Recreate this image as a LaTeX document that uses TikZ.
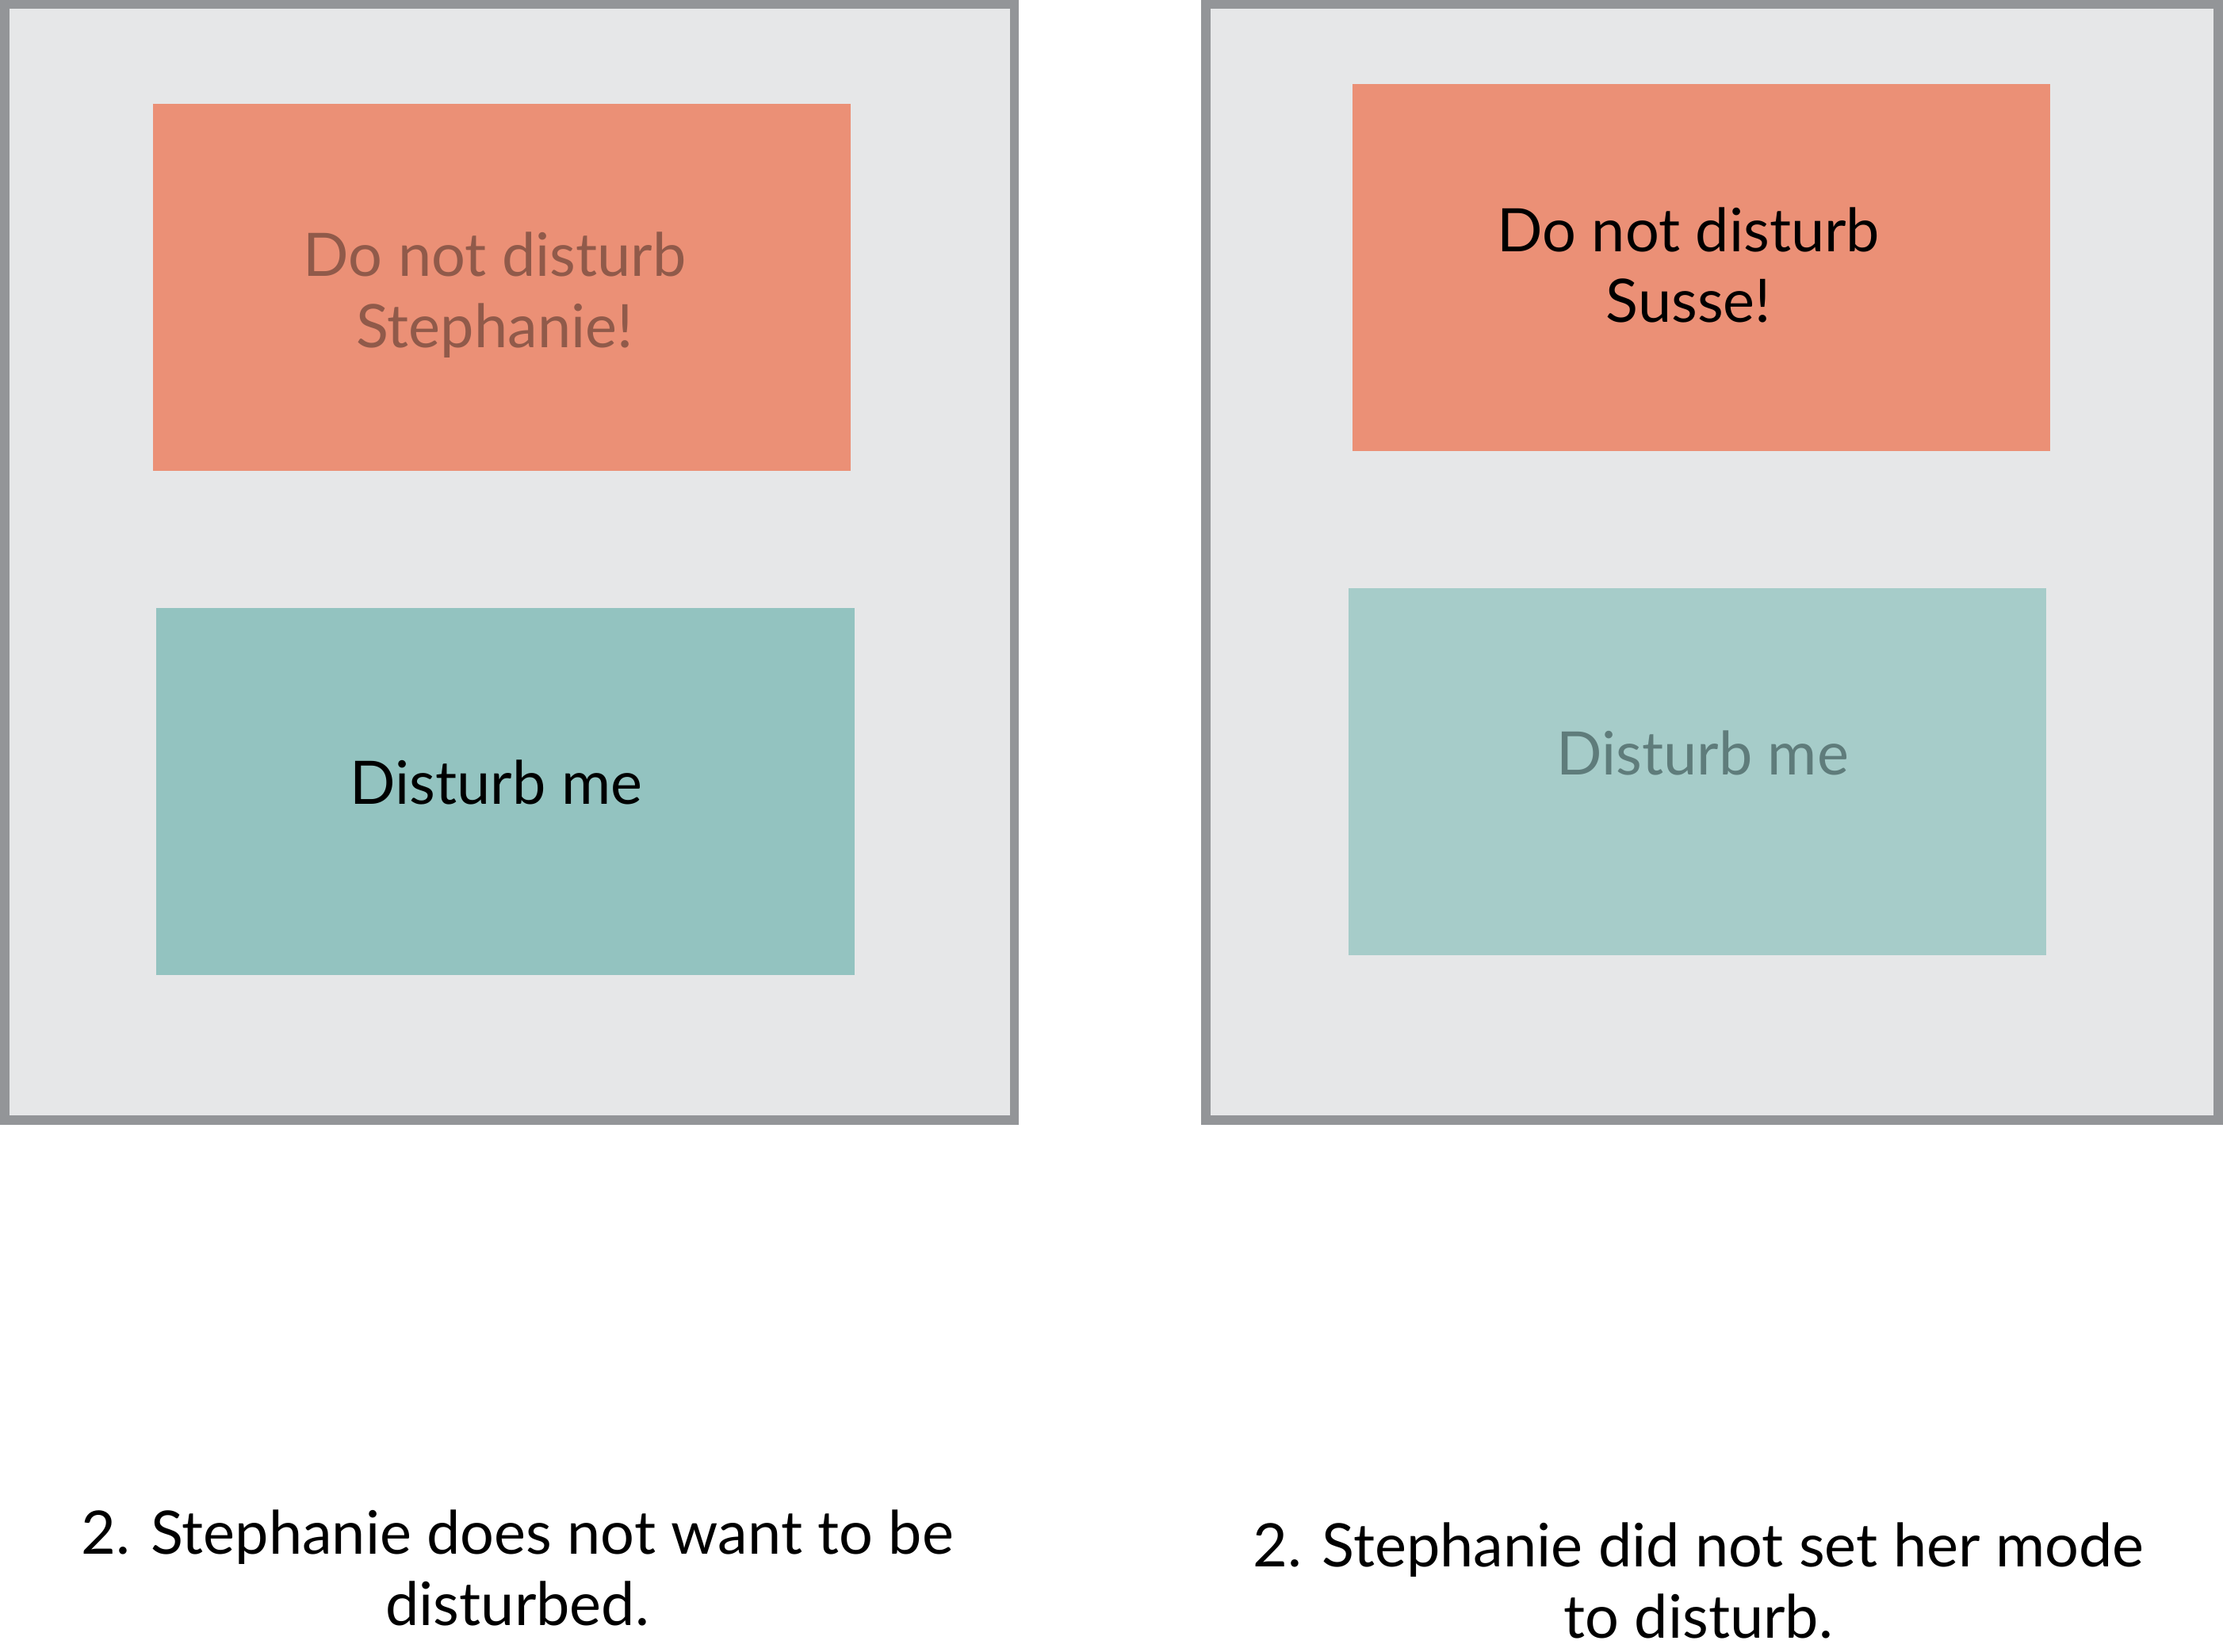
\documentclass[tikz,border=0pt]{standalone}
\usepackage{fontspec}
\setmainfont{Lato}
\definecolor{panelfill}{HTML}{E6E7E8}
\definecolor{panelline}{HTML}{939598}
\definecolor{orangebox}{HTML}{EB9076}
\definecolor{tealbox}{HTML}{93C3C0}
\definecolor{tealpale}{HTML}{A6CCC9}
\definecolor{fadedbrown}{HTML}{905A4A}
\definecolor{fadedteal}{HTML}{5F7C7B}
\begin{document}
\begin{tikzpicture}[x=1pt,y=-1pt,
  panel/.style={draw=panelline, fill=panelfill, line width=6.5pt, anchor=north west, inner sep=0pt, outer sep=0pt},
  card/.style={anchor=north west, inner sep=0pt, outer sep=0pt, minimum width=492pt, minimum height=259pt},
  label/.style={font=\fontsize{42.3}{50}\selectfont, align=center, inner sep=0pt},
  caption/.style={font=\fontsize{42.3}{50}\selectfont, align=center, inner sep=0pt}]
\useasboundingbox (0,0) rectangle (1568,1165);
\node[panel, minimum width=712pt, minimum height=787pt] (p1) at (3.5,3) {};
\node[panel, minimum width=714pt, minimum height=787pt] (p2) at (850.5,3) {};
\node[card, fill=orangebox] (o1) at (108,73) {};
\node[card, fill=tealbox, minimum width=493pt] (t1) at (110,429) {};
\node[card, fill=orangebox] (o2) at (954,59) {};
\node[card, fill=tealpale] (t2) at (951,415) {};
\node[label, text=fadedbrown] (o1t) at (349,208) {Do not disturb\\Stephanie!};
\node[label, text=black] (t1t) at (350,552) {Disturb me};
\node[label, text=black] (o2t) at (1191,187) {Do not disturb\\Susse!};
\node[label, text=fadedteal] (t2t) at (1201,531) {Disturb me};
\node[caption] (c1) at (365,1106) {2. Stephanie does not want to be\\disturbed.};
\node[caption] (c2) at (1198,1115) {2. Stephanie did not set her mode\\to disturb.};
\end{tikzpicture}
\end{document}
